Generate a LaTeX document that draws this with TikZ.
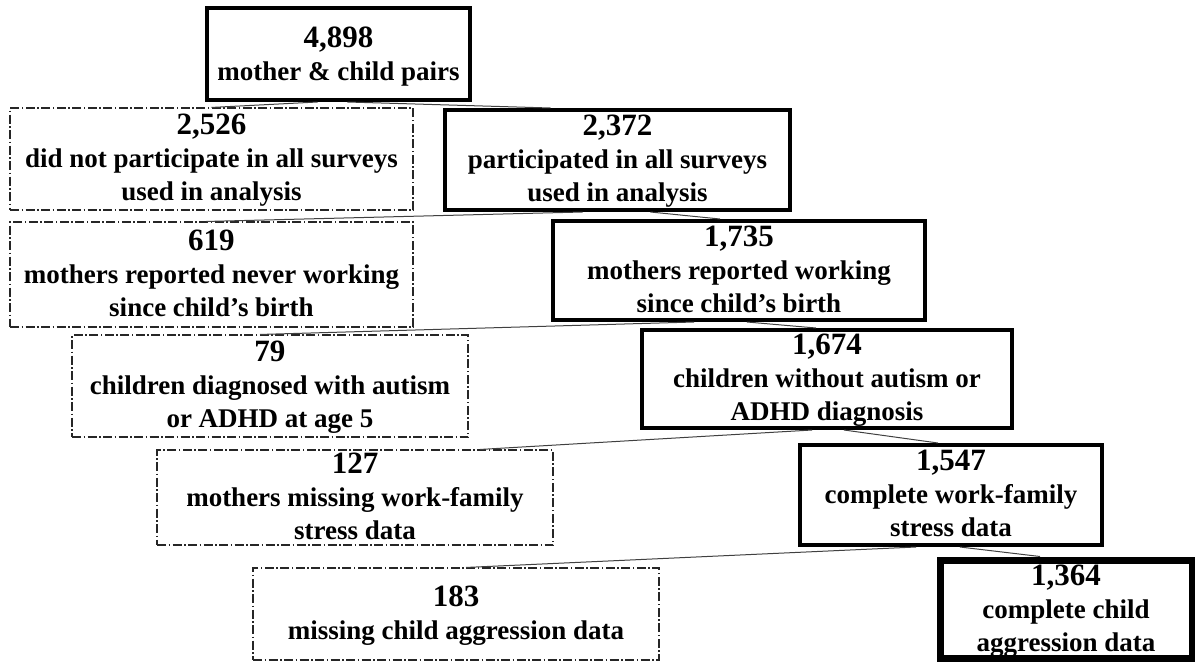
\documentclass[tikz,border=0pt]{standalone}
\usepackage{fontspec}
\setmainfont{Liberation Serif}
\usetikzlibrary{calc}
% count in a larger size over the description lines; the block sits a little low in its box
\newcommand{\countlines}[3][2pt]{%
  \raisebox{-#1}[\dimexpr\height-#1\relax][\dimexpr\depth-#1\relax]{%
    \begin{tabular}{@{}c@{}}{\fontsize{31}{33}\selectfont #2}\\#3\end{tabular}}}
\begin{document}
\begin{tikzpicture}[x=1pt,y=-1pt,
  box/.style={rectangle, inner sep=0pt,
    font=\fontsize{27}{33}\selectfont\bfseries},
  keptbox/.style={box, draw=black, line width=4pt},
  finalbox/.style={box, draw=black, line width=7pt},
  droppedbox/.style={box, draw=black!85, line width=1.1pt,
    dash pattern=on 9pt off 2.5pt on 1.5pt off 2.5pt},
  link/.style={draw=black!75, line width=1pt}]
\useasboundingbox (0,0) rectangle (1195,662);

% kept samples (right column)
\node[keptbox, minimum width=263pt, minimum height=92pt] (b1) at (338.5,54)
  {\countlines[3pt]{4,898}{mother \& child pairs}};
\node[keptbox, minimum width=345pt, minimum height=100pt] (b3) at (617.5,160)
  {\countlines{2,372}{participated in all surveys\\used in analysis}};
\node[keptbox, minimum width=372pt, minimum height=99pt] (b5) at (739,270.5)
  {\countlines{1,735}{mothers reported working\\since child’s birth}};
\node[keptbox, minimum width=370pt, minimum height=98pt] (b7) at (827,379)
  {\countlines{1,674}{children without autism or\\ADHD diagnosis}};
\node[keptbox, minimum width=302pt, minimum height=100pt] (b9) at (951,495)
  {\countlines{1,547}{complete work-family\\stress data}};
\node[finalbox, minimum width=252pt, minimum height=98pt] (b11) at (1066,609)
  {\countlines[3pt]{1,364}{complete child\\aggression data}};

% excluded samples (left column)
\node[droppedbox, minimum width=403pt, minimum height=102pt] (b2) at (211.5,159)
  {\countlines{2,526}{did not participate in all surveys\\used in analysis}};
\node[droppedbox, minimum width=403pt, minimum height=105pt] (b4) at (211.5,274.5)
  {\countlines{619}{mothers reported never working\\since child’s birth}};
\node[droppedbox, minimum width=396pt, minimum height=102pt] (b6) at (270,386)
  {\countlines{79}{children diagnosed with autism\\or ADHD at age 5}};
\node[droppedbox, minimum width=396pt, minimum height=95pt] (b8) at (355,497.5)
  {\countlines{127}{mothers missing work-family\\stress data}};
\node[droppedbox, minimum width=406pt, minimum height=92pt] (b10) at (456,614)
  {\countlines{183}{missing child aggression data}};

% splitting lines
\path[link] ([xshift=-21pt]b1.south) -- ([xshift=0pt]b2.north);
\path[link] ([xshift=9pt]b1.south) -- ([xshift=-67pt]b3.north);
\path[link] ([xshift=-35pt]b3.south) -- ([xshift=-5pt]b4.north);
\path[link] ([xshift=33pt]b3.south) -- ([xshift=-19pt]b5.north);
\path[link] ([xshift=-45pt]b5.south) -- ([xshift=-10pt]b6.north);
\path[link] ([xshift=8pt]b5.south) -- ([xshift=-11pt]b7.north);
\path[link] ([xshift=-15pt]b7.south) -- ([xshift=125pt]b8.north);
\path[link] ([xshift=17pt]b7.south) -- ([xshift=-13pt]b9.north);
\path[link] ([xshift=-35pt]b9.south) -- ([xshift=10pt]b10.north);
\path[link] ([xshift=9pt]b9.south) -- ([xshift=-26pt]b11.north);
\end{tikzpicture}
\end{document}
